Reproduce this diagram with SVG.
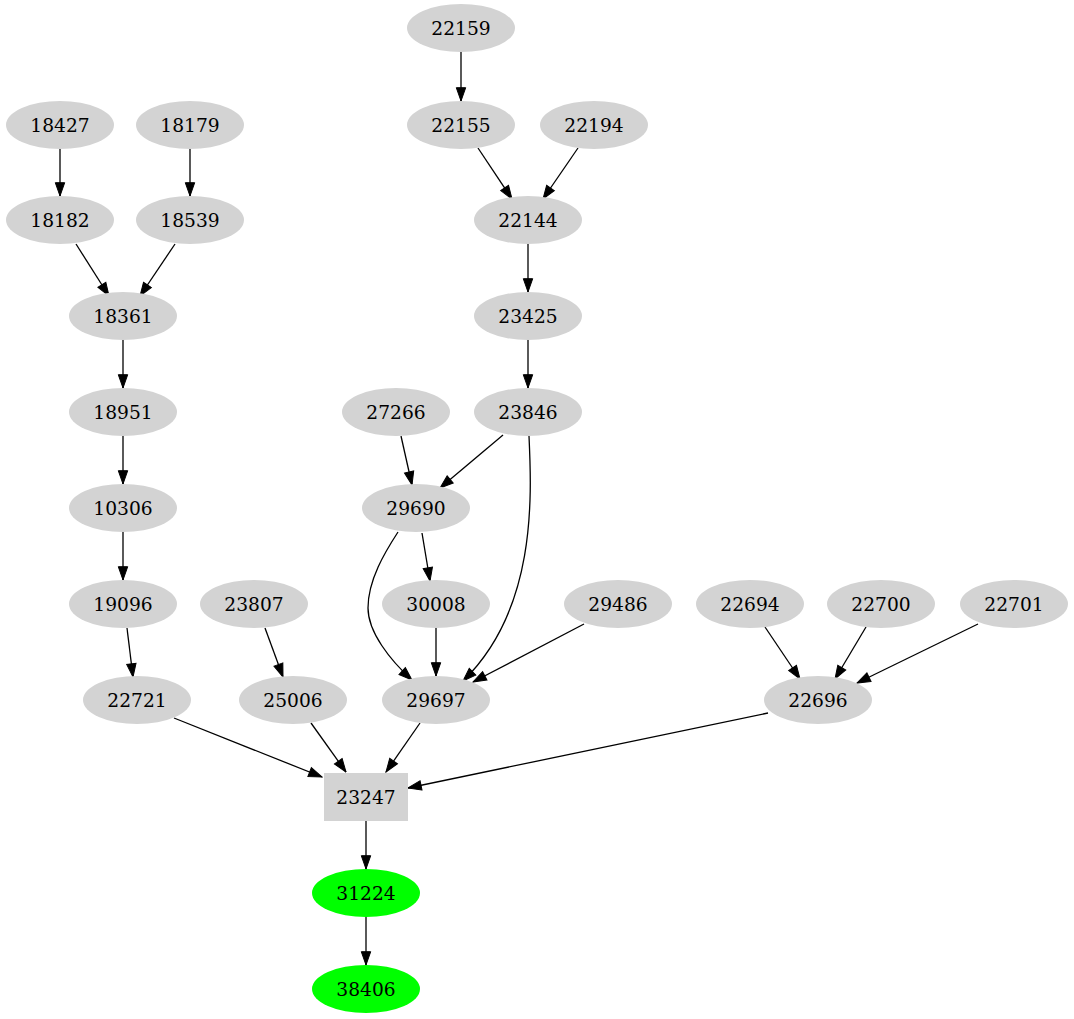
<svg xmlns="http://www.w3.org/2000/svg" width="1074" height="1019" viewBox="0 0 1074 1019">
<style>
.n ellipse,.n rect{fill:#d3d3d3;stroke:none}
.g ellipse{fill:#00ff00;stroke:none}
text{font-family:"DejaVu Serif","Liberation Serif",serif;font-size:18.67px;text-anchor:middle;fill:#000}
.e path{fill:none;stroke:#000;stroke-width:1.3;marker-end:url(#ah)}
</style>
<defs>
<marker id="ah" markerUnits="userSpaceOnUse" viewBox="-1 -6 15 12" refX="13.3" refY="0" markerWidth="15" markerHeight="12" orient="auto">
<path d="M0,-4.7 L13.3,0 L0,4.7 z" fill="#000" stroke="#000" stroke-width="1"/>
</marker>
</defs>
<rect width="1074" height="1019" fill="#fff"/>
<g class="e">
<path d="M461,52 L461,101"/>
<path d="M60,149 L60,196"/>
<path d="M190,149 L190,196"/>
<path d="M478,148 L512,199"/>
<path d="M578,148 L543,199"/>
<path d="M76,244 L109,296"/>
<path d="M175,244 L140,296"/>
<path d="M528,244 L528,292"/>
<path d="M123,340 L123,388"/>
<path d="M528,340 L528,388"/>
<path d="M123,436 L123,484"/>
<path d="M401,436 L412,485"/>
<path d="M503,435 L440,488"/>
<path d="M529,436 C532,500 536,610 463,681"/>
<path d="M422,533 L430,581"/>
<path d="M398,532 C385,552 368,580 368,608 C368,632 390,660 412,680"/>
<path d="M436,628 L436,676"/>
<path d="M584,624 L473,682"/>
<path d="M123,532 L123,580"/>
<path d="M127,628 L133,677"/>
<path d="M265,628 L283,677"/>
<path d="M765,627 L800,679"/>
<path d="M866,627 L835,679"/>
<path d="M978,624 L857,683"/>
<path d="M174,718 L322,777"/>
<path d="M311,723 L346,772"/>
<path d="M420,723 L386,772"/>
<path d="M768,713 L408,788"/>
<path d="M366,821 L366,869"/>
<path d="M366,917 L366,965"/>
</g>
<g id="n22159" class="n"><ellipse cx="461" cy="28" rx="54" ry="24"/><text x="461" y="34.5">22159</text></g>
<g id="n18427" class="n"><ellipse cx="60" cy="125" rx="54" ry="24"/><text x="60" y="131.5">18427</text></g>
<g id="n18179" class="n"><ellipse cx="190" cy="125" rx="54" ry="24"/><text x="190" y="131.5">18179</text></g>
<g id="n22155" class="n"><ellipse cx="461" cy="125" rx="54" ry="24"/><text x="461" y="131.5">22155</text></g>
<g id="n22194" class="n"><ellipse cx="594" cy="125" rx="54" ry="24"/><text x="594" y="131.5">22194</text></g>
<g id="n18182" class="n"><ellipse cx="60" cy="220" rx="54" ry="24"/><text x="60" y="226.5">18182</text></g>
<g id="n18539" class="n"><ellipse cx="190" cy="220" rx="54" ry="24"/><text x="190" y="226.5">18539</text></g>
<g id="n22144" class="n"><ellipse cx="528" cy="220" rx="54" ry="24"/><text x="528" y="226.5">22144</text></g>
<g id="n18361" class="n"><ellipse cx="123" cy="316" rx="54" ry="24"/><text x="123" y="322.5">18361</text></g>
<g id="n23425" class="n"><ellipse cx="528" cy="316" rx="54" ry="24"/><text x="528" y="322.5">23425</text></g>
<g id="n18951" class="n"><ellipse cx="123" cy="412" rx="54" ry="24"/><text x="123" y="418.5">18951</text></g>
<g id="n27266" class="n"><ellipse cx="396" cy="412" rx="54" ry="24"/><text x="396" y="418.5">27266</text></g>
<g id="n23846" class="n"><ellipse cx="528" cy="412" rx="54" ry="24"/><text x="528" y="418.5">23846</text></g>
<g id="n10306" class="n"><ellipse cx="123" cy="508" rx="54" ry="24"/><text x="123" y="514.5">10306</text></g>
<g id="n29690" class="n"><ellipse cx="416" cy="508" rx="54" ry="24"/><text x="416" y="514.5">29690</text></g>
<g id="n19096" class="n"><ellipse cx="123" cy="604" rx="54" ry="24"/><text x="123" y="610.5">19096</text></g>
<g id="n23807" class="n"><ellipse cx="254" cy="604" rx="54" ry="24"/><text x="254" y="610.5">23807</text></g>
<g id="n30008" class="n"><ellipse cx="436" cy="604" rx="54" ry="24"/><text x="436" y="610.5">30008</text></g>
<g id="n29486" class="n"><ellipse cx="618" cy="604" rx="54" ry="24"/><text x="618" y="610.5">29486</text></g>
<g id="n22694" class="n"><ellipse cx="750" cy="604" rx="54" ry="24"/><text x="750" y="610.5">22694</text></g>
<g id="n22700" class="n"><ellipse cx="881" cy="604" rx="54" ry="24"/><text x="881" y="610.5">22700</text></g>
<g id="n22701" class="n"><ellipse cx="1014" cy="604" rx="54" ry="24"/><text x="1014" y="610.5">22701</text></g>
<g id="n22721" class="n"><ellipse cx="137" cy="700" rx="54" ry="24"/><text x="137" y="706.5">22721</text></g>
<g id="n25006" class="n"><ellipse cx="293" cy="700" rx="54" ry="24"/><text x="293" y="706.5">25006</text></g>
<g id="n29697" class="n"><ellipse cx="436" cy="700" rx="54" ry="24"/><text x="436" y="706.5">29697</text></g>
<g id="n22696" class="n"><ellipse cx="818" cy="700" rx="54" ry="24"/><text x="818" y="706.5">22696</text></g>
<g id="n23247" class="n"><rect x="324" y="773" width="84" height="48"/><text x="366" y="803.5">23247</text></g>
<g id="n31224" class="g"><ellipse cx="366" cy="893" rx="54" ry="24"/><text x="366" y="899.5">31224</text></g>
<g id="n38406" class="g"><ellipse cx="366" cy="989" rx="54" ry="24"/><text x="366" y="995.5">38406</text></g>
</svg>
